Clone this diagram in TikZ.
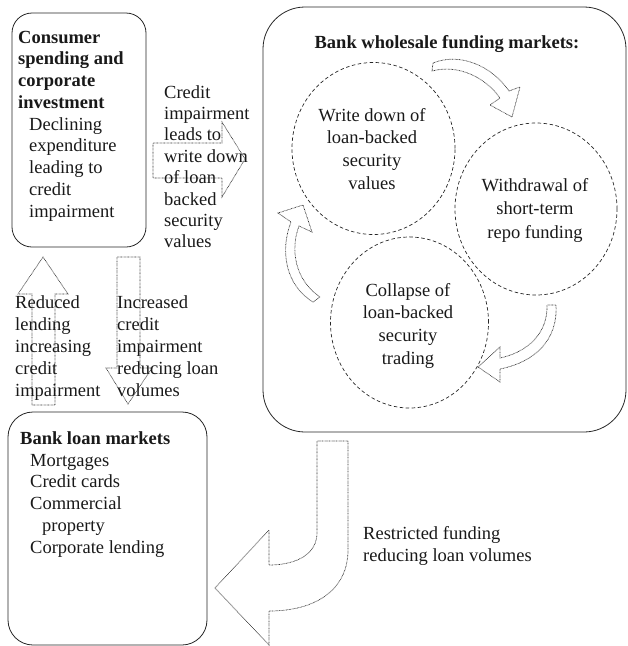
\documentclass[tikz,border=0pt]{standalone}
\usepackage{fontspec}
\setmainfont{Liberation Serif}
\usetikzlibrary{shapes.geometric}
\begin{document}
\begin{tikzpicture}[x=1pt,y=-1pt,
  roundbox/.style={draw=black!85, line width=0.8pt, rectangle, rounded corners=#1, inner sep=0pt},
  loopcirc/.style={draw=black!85, line width=0.7pt, dash pattern=on 3.5pt off 2.5pt, ellipse, inner sep=0pt},
  blockarrow/.style={draw=black!80, line width=0.7pt, dash pattern=on 0.7pt off 0.7pt, line join=miter},
  txt/.style={font=\fontsize{18.5}{#1}\selectfont, inner sep=0pt, align=left, anchor=north west, text=black!90},
  btxt/.style={font=\fontsize{18.5}{#1}\selectfont\bfseries, inner sep=0pt, align=left, anchor=north west, text=black!90},
  ctxt/.style={font=\fontsize{18.5}{#1}\selectfont, inner sep=0pt, align=center, anchor=north, text=black!90},
  title/.style={font=\fontsize{18.5}{22}\selectfont\bfseries, inner sep=0pt, text=black!90},
]
\path[use as bounding box] (0,0) rectangle (628,646);

% Consumer box
\node[roundbox=20pt, minimum width=134pt, minimum height=234pt] (consbox) at (79,130) {};
\node[btxt=21.75] (constitle) at (18,27.8) {\strut Consumer\\spending and\\corporate\\investment};
\node[txt=21.75] (consbody) at (29,114.8) {\strut Declining\\expenditure\\leading to\\credit\\impairment};

% Bank wholesale box
\node[roundbox=42pt, minimum width=363pt, minimum height=425pt] (bankbox) at (444.5,219.5) {};
\node[title, anchor=base] (banktitle) at (447,48) {Bank wholesale funding markets:};

\node[loopcirc, minimum width=163pt, minimum height=172pt] (c1) at (373.5,148.5) {};
\node[loopcirc, minimum width=162pt, minimum height=172pt] (c2) at (536,209) {};
\node[loopcirc, minimum width=158pt, minimum height=171pt] (c3) at (409.5,322.5) {};
\node[ctxt=22.7] (t1) at (372,105.1) {\strut Write down of\\loan-backed\\security\\values};
\node[ctxt=23.5] (t2) at (535,174.55) {\strut Withdrawal of\\short-term\\repo funding};
\node[ctxt=22.7] (t3) at (408,280.1) {\strut Collapse of\\loan-backed\\security\\trading};

% cycle arrows
\draw[blockarrow] (433,63) .. controls (460,52) and (492,66) .. (509,91) -- (520,87) -- (512,117) -- (490,105) -- (500,98) .. controls (485,77) and (458,64) .. (432,71) -- cycle;
\draw[blockarrow] (547,305) .. controls (548,333) and (528,352) .. (500,358) -- (500,347) -- (478,367) -- (500,382) -- (500,369) .. controls (535,362) and (558,340) .. (556,305) -- cycle;
\draw[blockarrow] (320,297) .. controls (295,280) and (290,250) .. (299,226) -- (312,232) -- (303,205) -- (278,213) -- (291,222) .. controls (280,250) and (285,285) .. (313,302) -- cycle;

% Bank loan box
\node[roundbox=25pt, minimum width=199pt, minimum height=233pt] (loanbox) at (107.5,528.5) {};
\node[title, anchor=base west] (loantitle) at (20,444) {Bank loan markets};
\node[txt=21.8] (loanitems) at (30,450.7) {\strut Mortgages\\Credit cards\\Commercial\\\hspace*{12pt}property\\Corporate lending};

% Right arrow
\draw[blockarrow] (153,143) -- (222,143) -- (222,122) -- (245,159) -- (222,197) -- (222,178) -- (153,178) -- cycle;
\node[txt=21.4] (rtxt) at (164,83) {\strut Credit\\impairment\\leads to\\write down\\of loan\\backed\\security\\values};

% Vertical arrows
\draw[blockarrow] (32,405) -- (32,294) -- (18,294) -- (43,257) -- (68,294) -- (55,294) -- (55,405) -- cycle;
\draw[blockarrow] (117,257) -- (140,257) -- (140,368) -- (152,368) -- (128,404) -- (106,368) -- (117,368) -- cycle;
\node[txt=22] (uptxt) at (15,292.6) {\strut Reduced\\lending\\increasing\\credit\\impairment};
\node[txt=22] (dntxt) at (117,292.6) {\strut Increased\\credit\\impairment\\reducing loan\\volumes};

% Big bottom arrow
\draw[blockarrow] (317,441) -- (317,533) .. controls (317,553) and (298,565) .. (269,565) -- (269,530) -- (215,588) -- (269,645) -- (269,611) .. controls (318,611) and (348,588) .. (348,550) -- (348,441) -- cycle;
\node[txt=22] (btxt) at (363,523.6) {\strut Restricted funding\\reducing loan volumes};
\end{tikzpicture}
\end{document}
